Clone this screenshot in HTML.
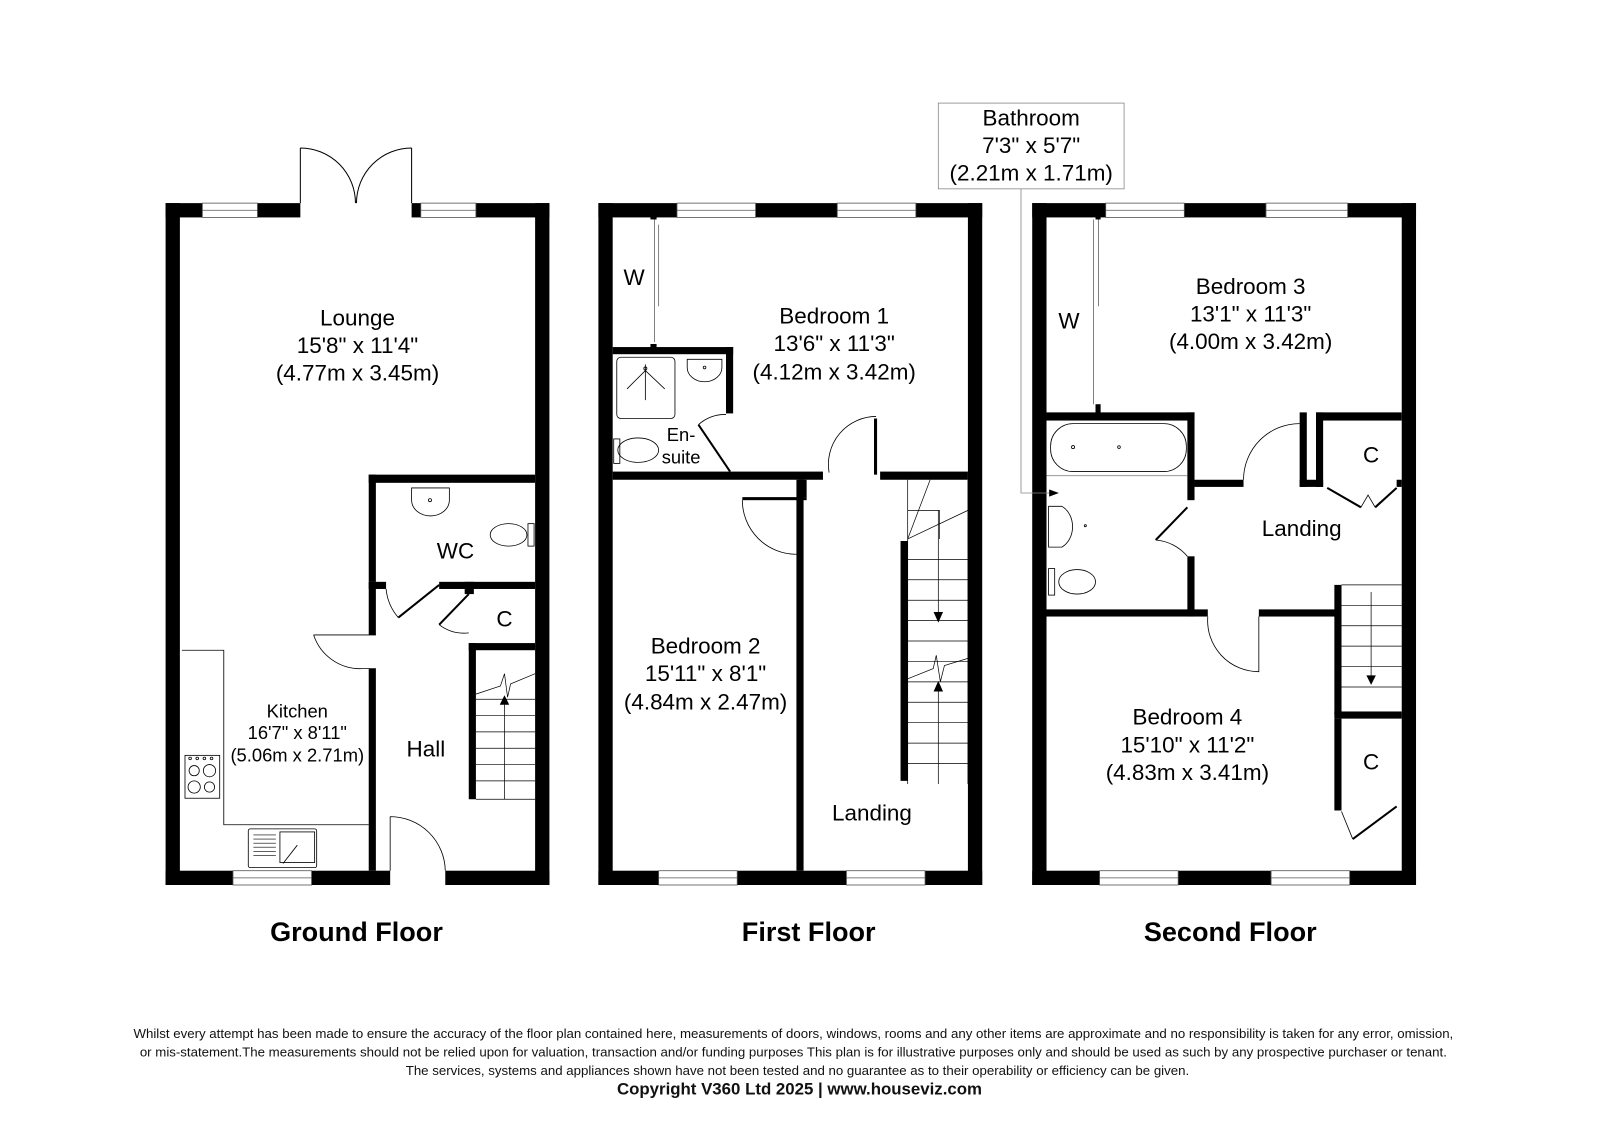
<!DOCTYPE html>
<html><head><meta charset="utf-8"><style>html,body{margin:0;padding:0;background:#fff}svg{display:block}</style></head>
<body>
<svg width="1600" height="1131" viewBox="0 0 1567 1108" xmlns="http://www.w3.org/2000/svg" font-family="Liberation Sans, Arial, sans-serif">
<rect width="1567" height="1108" fill="#fff"/>
<g fill="#000">
<rect x="162" y="199" width="14" height="668"/>
<rect x="524" y="199" width="14" height="668"/>
<rect x="162" y="199" width="36" height="14"/><rect x="252" y="199" width="42" height="14"/>
<rect x="403" y="199" width="9" height="14"/><rect x="466" y="199" width="72" height="14"/>
<rect x="162" y="853" width="66" height="14"/><rect x="305" y="853" width="77" height="14"/><rect x="436" y="853" width="102" height="14"/>
<rect x="361" y="465" width="163" height="8"/>
<rect x="361" y="465" width="7" height="105"/>
<rect x="361" y="570" width="17" height="7"/><rect x="430" y="570" width="94" height="7"/>
<rect x="455" y="570" width="9" height="12"/>
<rect x="361" y="570" width="7" height="52"/>
<rect x="361" y="655" width="7" height="198"/>
<rect x="459" y="630" width="65" height="7"/>
<rect x="459" y="630" width="7" height="153"/>
<rect x="586" y="199" width="14" height="668"/>
<rect x="948" y="199" width="14" height="668"/>
<rect x="586" y="199" width="77" height="14"/><rect x="740" y="199" width="80" height="14"/><rect x="897" y="199" width="65" height="14"/>
<rect x="586" y="853" width="59" height="14"/><rect x="722" y="853" width="107" height="14"/><rect x="906" y="853" width="56" height="14"/>
<rect x="600" y="462" width="206" height="8"/><rect x="862" y="462" width="86" height="8"/>
<rect x="600" y="340" width="118" height="7"/><rect x="711" y="340" width="7" height="65"/>
<rect x="780" y="470" width="7" height="383"/>
<rect x="782" y="470" width="8" height="17"/>
<rect x="727" y="487" width="63" height="3"/>
<rect x="856" y="410" width="3" height="55"/>
<rect x="882" y="530" width="7" height="235"/>
<rect x="637" y="210" width="6" height="5"/><rect x="637" y="337" width="6" height="5"/>
<rect x="1011" y="199" width="14" height="668"/>
<rect x="1373" y="199" width="14" height="668"/>
<rect x="1011" y="199" width="72" height="14"/><rect x="1160" y="199" width="80" height="14"/><rect x="1320" y="199" width="67" height="14"/>
<rect x="1011" y="853" width="66" height="14"/><rect x="1154" y="853" width="91" height="14"/><rect x="1322" y="853" width="65" height="14"/>
<rect x="1025" y="404" width="145" height="8"/>
<rect x="1163" y="404" width="7" height="86"/><rect x="1163" y="545" width="7" height="59"/>
<rect x="1025" y="597" width="158" height="7"/><rect x="1233" y="597" width="81" height="7"/>
<rect x="1170" y="470" width="48" height="7"/>
<rect x="1273" y="404" width="7" height="73"/><rect x="1273" y="470" width="23" height="7"/>
<rect x="1289" y="404" width="84" height="8"/><rect x="1289" y="404" width="7" height="73"/>
<rect x="1368" y="470" width="5" height="7"/>
<rect x="1307" y="573" width="7" height="127"/>
<rect x="1307" y="697" width="66" height="7"/>
<rect x="1307" y="704" width="7" height="90"/>
<rect x="1073" y="210" width="5" height="5"/><rect x="1073" y="396" width="5" height="10"/>
</g>
<g fill="none" stroke="#000" stroke-width="0.8">
<g stroke="#555">
<rect x="198" y="199" width="54" height="14"/><line x1="198" y1="206" x2="252" y2="206"/>
<rect x="412" y="199" width="54" height="14"/><line x1="412" y1="206" x2="466" y2="206"/>
<rect x="228" y="853" width="77" height="14"/><line x1="228" y1="860" x2="305" y2="860"/>
<rect x="663" y="199" width="77" height="14"/><line x1="663" y1="206" x2="740" y2="206"/>
<rect x="820" y="199" width="77" height="14"/><line x1="820" y1="206" x2="897" y2="206"/>
<rect x="645" y="853" width="77" height="14"/><line x1="645" y1="860" x2="722" y2="860"/>
<rect x="829" y="853" width="77" height="14"/><line x1="829" y1="860" x2="906" y2="860"/>
<rect x="1083" y="199" width="77" height="14"/><line x1="1083" y1="206" x2="1160" y2="206"/>
<rect x="1240" y="199" width="80" height="14"/><line x1="1240" y1="206" x2="1320" y2="206"/>
<rect x="1077" y="853" width="77" height="14"/><line x1="1077" y1="860" x2="1154" y2="860"/>
<rect x="1245" y="853" width="77" height="14"/><line x1="1245" y1="860" x2="1322" y2="860"/>
</g>
<path d="M294 199 V145 M403 199 V145 M294 145 A54 54 0 0 1 348 199 M403 145 A54 54 0 0 0 349 199" stroke-width="1"/>
<path d="M382 800 V853 M382 800 A54 54 0 0 1 436 853"/>
<path d="M307 622 H368 M307 622 A48 48 0 0 0 355 655 H368"/>
<path d="M378 577 A50 50 0 0 0 390 605" /><path d="M390 605 L430 573" stroke-width="2"/>
<path d="M459 582 L430 612" stroke-width="2"/><path d="M430 612 A40 40 0 0 0 459 620"/>
<path d="M178 637 H219 V808 H361"/>
<rect x="181" y="740" width="34" height="42"/>
<circle cx="190" cy="755" r="5"/><circle cx="205" cy="755" r="6"/><circle cx="190" cy="771" r="6"/><circle cx="205" cy="771" r="5"/>
<circle cx="186" cy="743" r="1.3"/><circle cx="193" cy="743" r="1.3"/><circle cx="200" cy="743" r="1.3"/><circle cx="207" cy="743" r="1.3"/>
<rect x="243" y="812" width="67" height="38" rx="2"/><rect x="274" y="815" width="34" height="30"/>
<path d="M248 818 H270 M248 822 H270 M248 826 H270 M248 830 H270 M248 834 H270 M248 838 H270" stroke-width="0.6"/>
<path d="M277 846 L291 828"/>
<path d="M403 478 H440 V490 A18 15 0 0 1 403 490 Z"/><circle cx="421" cy="490" r="1.5"/>
<ellipse cx="498" cy="524" rx="18" ry="11"/><rect x="517" y="513" width="6" height="22"/>
<g stroke-width="0.7">
<path d="M466 685 H524 M466 701 H524 M466 717 H524 M466 733 H524 M466 749 H524 M466 765 H524 M466 783 H524"/>
<path d="M494 783 V690"/><path d="M466 680 L490 672 L494 660 L497 683 L500 670 L524 660"/>
</g>
<path d="M490 690 L494 682 L498 690 Z" fill="#000"/>
<path d="M641 215 V335 M645 220 V300" stroke="#666"/>
<rect x="604" y="350" width="57" height="60" rx="4"/>
<path d="M632 357 V392 M632 363 L614 381 M632 363 L651 381"/><circle cx="632" cy="361" r="1.5"/>
<path d="M673 352 H707 V360 A17 14 0 0 1 673 360 Z"/><circle cx="690" cy="360" r="1.3"/>
<ellipse cx="625" cy="441" rx="20" ry="12"/><rect x="601" y="430" width="6" height="24"/>
<path d="M684 416 A40 40 0 0 1 711 406"/><path d="M684 416 L715 462" stroke-width="2"/>
<path d="M812 463 A47 47 0 0 1 858 408"/>
<path d="M727 490 A53 53 0 0 0 780 543"/>
<g stroke-width="0.7">
<path d="M889 470 V768 M948 470 V768"/>
<path d="M889 528 L911 470 M889 528 L948 500 M889 500 H920 V528"/>
<path d="M889 548 H948 M889 568 H948 M889 588 H948 M889 608 H948 M889 628 H948 M889 648 H948 M889 668 H948 M889 688 H948 M889 708 H948 M889 728 H948 M889 748 H948"/>
<path d="M919 500 V605 M919 668 V768"/>
<path d="M889 665 L914 655 L917 642 L921 668 L925 652 L948 645"/>
</g>
<path d="M915 600 L919 609 L923 600 Z M915 677 L919 668 L923 677 Z" fill="#000"/>
<path d="M1071 215 V396 M1076 215 V300" stroke="#666"/>
<rect x="1029" y="415" width="133" height="47" rx="22"/><path d="M1025 466 H1163" stroke="#888"/>
<circle cx="1096" cy="438" r="1.3"/><circle cx="1051" cy="438" r="1.5"/>
<path d="M1027 496 H1040 A18 22 0 0 1 1040 536 H1027 Z"/><circle cx="1063" cy="515" r="1"/>
<ellipse cx="1055" cy="570" rx="18" ry="12"/><rect x="1027" y="557" width="6" height="26"/>
<path d="M1132 529 A45 45 0 0 1 1163 545"/><path d="M1132 529 L1163 497" stroke-width="2"/>
<path d="M1218 470 A55 55 0 0 1 1273 415"/>
<path d="M1183 604 A50 50 0 0 0 1233 658 V604"/>
<path d="M1300 478 L1333 497 M1368 478 L1347 497" stroke-width="2"/><path d="M1333 497 Q1340 485 1340 485 Q1340 485 1347 497"/>
<path d="M1314 795 L1325 822" /><path d="M1325 822 L1368 790" stroke-width="2"/>
<g stroke-width="0.7">
<path d="M1314 573 H1373 M1314 593 H1373 M1314 613 H1373 M1314 633 H1373 M1314 653 H1373 M1314 673 H1373 M1343 580 V665"/>
</g>
<path d="M1339 662 L1343 670 L1347 662 Z" fill="#000"/>
<rect x="919" y="101" width="182" height="84" stroke="#888"/>
<path d="M1000 185 V483 H1030" stroke="#888"/>
<path d="M1028 480 L1036 483 L1028 486 Z" fill="#000"/>
</g>
<g font-size="22" text-anchor="middle" fill="#000">
<text x="350" y="319">Lounge</text><text x="350" y="346">15'8" x 11'4"</text><text x="350" y="373">(4.77m x 3.45m)</text>
<text x="446" y="547">WC</text><text x="494" y="614">C</text>
<text x="291" y="703" font-size="18">Kitchen</text><text x="291" y="724" font-size="18">16'7" x 8'11"</text><text x="291" y="746" font-size="18">(5.06m x 2.71m)</text>
<text x="417" y="741">Hall</text>
<text x="621" y="279">W</text>
<text x="817" y="317">Bedroom 1</text><text x="817" y="344">13'6" x 11'3"</text><text x="817" y="372">(4.12m x 3.42m)</text>
<text x="667" y="432" font-size="18">En-</text><text x="667" y="454" font-size="18">suite</text>
<text x="691" y="640">Bedroom 2</text><text x="691" y="667">15'11" x 8'1"</text><text x="691" y="695">(4.84m x 2.47m)</text>
<text x="854" y="804">Landing</text>
<text x="1010" y="123">Bathroom</text><text x="1010" y="150">7'3" x 5'7"</text><text x="1010" y="177">(2.21m x 1.71m)</text>
<text x="1047" y="322">W</text>
<text x="1225" y="288">Bedroom 3</text><text x="1225" y="315">13'1" x 11'3"</text><text x="1225" y="342">(4.00m x 3.42m)</text>
<text x="1343" y="453">C</text>
<text x="1275" y="525">Landing</text>
<text x="1163" y="710">Bedroom 4</text><text x="1163" y="737">15'10" x 11'2"</text><text x="1163" y="764">(4.83m x 3.41m)</text>
<text x="1343" y="754">C</text>
</g>
<g font-size="26.5" font-weight="bold" text-anchor="middle">
<text x="349" y="922">Ground Floor</text><text x="792" y="922">First Floor</text><text x="1205" y="922">Second Floor</text>
</g>
<g font-size="13" text-anchor="middle" fill="#111">
<text x="777" y="1017">Whilst every attempt has been made to ensure the accuracy of the floor plan contained here, measurements of doors, windows, rooms and any other items are approximate and no responsibility is taken for any error, omission,</text>
<text x="777" y="1035">or mis-statement.The measurements should not be relied upon for valuation, transaction and/or funding purposes This plan is for illustrative purposes only and should be used as such by any prospective purchaser or tenant.</text>
<text x="781" y="1053">The services, systems and appliances shown have not been tested and no guarantee as to their operability or efficiency can be given.</text>
<text x="783" y="1072" font-weight="bold" font-size="16.5">Copyright V360 Ltd 2025 | www.houseviz.com</text>
</g>
</svg>
</body></html>
